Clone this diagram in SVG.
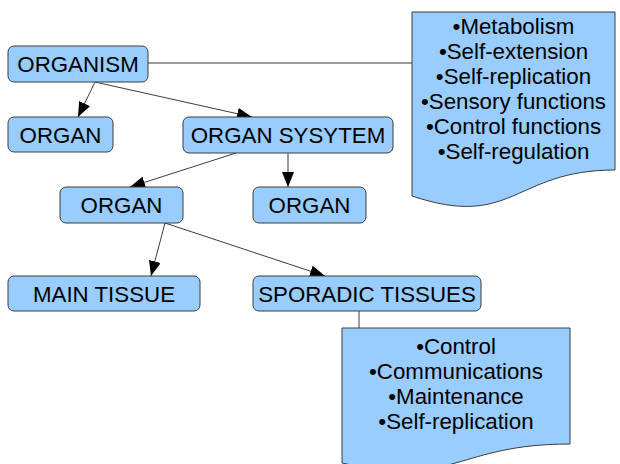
<svg xmlns="http://www.w3.org/2000/svg" width="620" height="464" viewBox="0 0 620 464">
<style>
.box{fill:#99ccff;stroke:#3c3c3c;stroke-width:1}
.doc{fill:#99ccff;stroke:#3c3c3c;stroke-width:1}
.lbl{font-family:"Liberation Sans",Arial,sans-serif;font-size:22.3px;fill:#000;text-anchor:middle}
.con{stroke:#3c3c3c;stroke-width:1;fill:none}
.arr{marker-end:url(#ah)}
</style>
<defs>
<marker id="ah" markerUnits="userSpaceOnUse" markerWidth="16" markerHeight="12" refX="15" refY="6" orient="auto">
<path d="M0,0 L15,6 L0,12 Z" fill="#000"/>
</marker>
</defs>
<rect width="620" height="464" fill="#fff"/>
<g id="connectors">
<line class="con arr" x1="95" y1="82" x2="78" y2="117"/>
<line class="con arr" x1="95" y1="82" x2="252" y2="117"/>
<line class="con arr" x1="236" y1="153" x2="130" y2="187"/>
<line class="con arr" x1="288" y1="153" x2="288" y2="187"/>
<line class="con arr" x1="165" y1="223" x2="151" y2="276"/>
<line class="con arr" x1="165" y1="223" x2="325" y2="276"/>
<line class="con" x1="148" y1="63" x2="412" y2="63"/>
<line class="con" x1="359" y1="311" x2="359" y2="328"/>
</g>
<g id="organism">
<rect class="box" x="8" y="46" width="140" height="36" rx="6"/>
<text class="lbl" x="78" y="71.5">ORGANISM</text>
</g>
<g id="organ1">
<rect class="box" x="8" y="117" width="105" height="35" rx="6"/>
<text class="lbl" x="60.5" y="142.5">ORGAN</text>
</g>
<g id="organ-system">
<rect class="box" x="183" y="117" width="210" height="36" rx="6"/>
<text class="lbl" x="288" y="143">ORGAN SYSYTEM</text>
</g>
<g id="organ2">
<rect class="box" x="60" y="187" width="123" height="36" rx="6"/>
<text class="lbl" x="121.5" y="213">ORGAN</text>
</g>
<g id="organ3">
<rect class="box" x="253" y="187" width="113" height="36" rx="6"/>
<text class="lbl" x="309.5" y="213">ORGAN</text>
</g>
<g id="main-tissue">
<rect class="box" x="8" y="276" width="192" height="35" rx="6"/>
<text class="lbl" x="104" y="301.5">MAIN TISSUE</text>
</g>
<g id="sporadic-tissues">
<rect class="box" x="253" y="276" width="228" height="35" rx="6"/>
<text class="lbl" x="367" y="301.5">SPORADIC TISSUES</text>
</g>
<g id="organism-functions">
<path class="doc" d="M412,12 H615 V170 C513.5,170 513.5,230 412,196 Z"/>
<text class="lbl" x="513.5" y="33.5">•Metabolism</text>
<text class="lbl" x="513.5" y="58.5">•Self-extension</text>
<text class="lbl" x="513.5" y="83.5">•Self-replication</text>
<text class="lbl" x="513.5" y="108.5">•Sensory functions</text>
<text class="lbl" x="513.5" y="133.5">•Control functions</text>
<text class="lbl" x="513.5" y="158.5">•Self-regulation</text>
</g>
<g id="tissue-functions">
<path class="doc" d="M342,328 H570 V444 C456,444 456,488 342,463 Z"/>
<text class="lbl" x="456" y="353.5">•Control</text>
<text class="lbl" x="456" y="378.5">•Communications</text>
<text class="lbl" x="456" y="403.5">•Maintenance</text>
<text class="lbl" x="456" y="428.5">•Self-replication</text>
</g>
</svg>
